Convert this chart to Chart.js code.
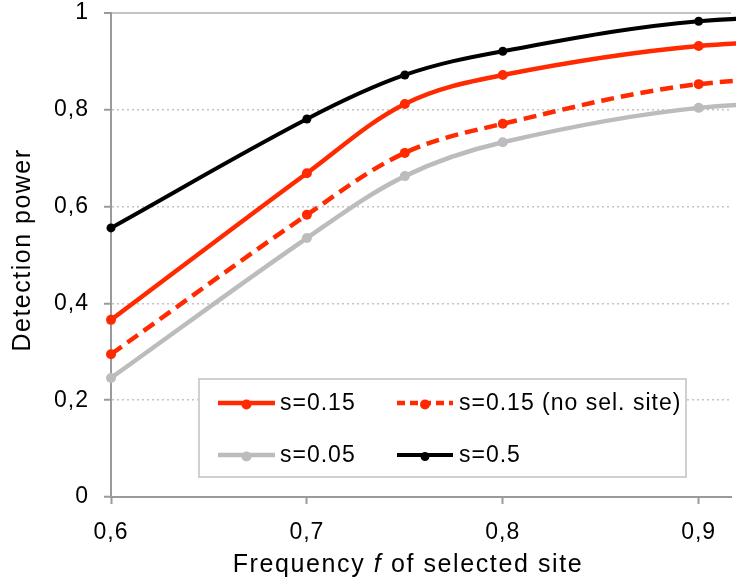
<!DOCTYPE html>
<html>
<head>
<meta charset="utf-8">
<script src="https://cdn.jsdelivr.net/npm/chart.js@4/dist/chart.umd.min.js"></script>
<style>
html,body{margin:0;padding:0;background:#fff;overflow:hidden;}
#wrap{width:736px;height:588px;position:relative;}
</style>
</head>
<body>
<div id="wrap"><canvas id="c" width="736" height="588"></canvas></div>
<script>
// ---- data ----
const categories = [0.6, 0.7, 0.75, 0.8, 0.9, 1.0];
const seriesS015 = [0.366, 0.669, 0.812, 0.872, 0.932, 0.945];
const seriesS015NoSel = [0.295, 0.583, 0.711, 0.771, 0.853, 0.865];
const seriesS005 = [0.246, 0.535, 0.663, 0.733, 0.804, 0.815];
const seriesS05 = [0.556, 0.781, 0.872, 0.921, 0.983, 0.99];
const seriesLabels = ['s=0.15', 's=0.15 (no sel. site)', 's=0.05', 's=0.5'];
const xTickValues = [0.6, 0.7, 0.8, 0.9];
const yTickValues = [0, 0.2, 0.4, 0.6, 0.8, 1];
const xTitleParts = ['Frequency ', 'f', ' of selected site'];
const yTitle = 'Detection power';

const RED = '#ff2a00', GRAY = '#bcbcbc', BLACK = '#000000';
const FONT = '"Liberation Sans", Arial, Helvetica, sans-serif';

function pts(arr) { return categories.map((x, i) => ({ x: x, y: arr[i] })); }
function fmt(v) { return String(Math.round(v * 10) / 10).replace('.', ','); }

function ds(label, data, color, width, radius, dash) {
  return {
    label: label, data: pts(data), borderColor: color, backgroundColor: color,
    borderWidth: width, borderDash: dash || [], borderCapStyle: 'butt',
    pointRadius: radius, pointBackgroundColor: color, pointBorderWidth: 0,
    pointHoverRadius: radius, tension: 0.35, fill: false, clip: false
  };
}

const spacingPlugin = {
  id: 'spacing',
  beforeUpdate(chart) { chart.ctx.letterSpacing = '1px'; },
  beforeDraw(chart) { chart.ctx.letterSpacing = '1px'; }
};

const decorPlugin = {
  id: 'decor',
  afterDraw(chart) {
    const ctx = chart.ctx, a = chart.chartArea;
    ctx.save();
    // legend box
    const bx = a.left + 88, by = a.top + 366, bw = 487, bh = 98;
    ctx.fillStyle = '#fff';
    ctx.fillRect(bx, by, bw, bh);
    ctx.strokeStyle = '#d0d0d0';
    ctx.lineWidth = 2;
    ctx.strokeRect(bx, by, bw, bh);
    const cols = [[19, 76, 81], [198, 254, 260]];
    const rows = [24, 76];
    ctx.font = '23px ' + FONT;
    ctx.letterSpacing = '1px';
    ctx.textBaseline = 'middle';
    ctx.textAlign = 'left';
    chart.data.datasets.forEach((d, i) => {
      const c = cols[i % 2], y = by + rows[Math.floor(i / 2)];
      ctx.beginPath();
      ctx.strokeStyle = d.borderColor;
      ctx.lineWidth = d.borderWidth;
      ctx.setLineDash(d.borderDash.length ? [8, 5] : []);
      ctx.moveTo(bx + c[0], y);
      ctx.lineTo(bx + c[1], y);
      ctx.stroke();
      ctx.setLineDash([]);
      ctx.beginPath();
      ctx.fillStyle = d.borderColor;
      ctx.arc(bx + (c[0] + c[1]) / 2, y + 1.5, d.pointRadius, 0, Math.PI * 2);
      ctx.fill();
      ctx.fillStyle = '#000';
      ctx.fillText(d.label, bx + c[2], y + 1);
    });
    // x-axis title with italic f
    ctx.letterSpacing = '1.6px';
    ctx.textBaseline = 'alphabetic';
    ctx.fillStyle = '#000';
    const fonts = ['25px ' + FONT, 'italic 25px ' + FONT, '25px ' + FONT];
    let total = 0;
    const widths = xTitleParts.map((t, i) => { ctx.font = fonts[i]; const w = ctx.measureText(t).width; total += w; return w; });
    let x = 408 - total / 2;
    const yb = a.bottom + 75;
    xTitleParts.forEach((t, i) => { ctx.font = fonts[i]; ctx.fillText(t, x, yb); x += widths[i]; });
    // y-axis title
    ctx.letterSpacing = '1.5px';
    ctx.translate(30, (a.top + a.bottom) / 2 - 5);
    ctx.rotate(-Math.PI / 2);
    ctx.font = '25px ' + FONT;
    ctx.textAlign = 'center';
    ctx.fillText(yTitle, 0, 0);
    ctx.restore();
  }
};

new Chart(document.getElementById('c'), {
  type: 'line',
  data: {
    datasets: [
      ds(seriesLabels[0], seriesS015, RED, 4.5, 5),
      ds(seriesLabels[1], seriesS015NoSel, RED, 4.5, 5, [13, 7]),
      ds(seriesLabels[2], seriesS005, GRAY, 4.5, 5),
      ds(seriesLabels[3], seriesS05, BLACK, 4, 4.5)
    ]
  },
  options: {
    responsive: false,
    animation: false,
    devicePixelRatio: 1,
    layout: { padding: { top: 13, right: 0, left: 0, bottom: 0 } },
    plugins: { legend: { display: false }, tooltip: { enabled: false }, title: { display: false } },
    events: [],
    scales: {
      x: {
        type: 'linear', min: 0.6, max: 0.9165,
        afterBuildTicks(s) { s.ticks = xTickValues.map(v => ({ value: v })); },
        afterFit(s) { s.height = 91; s.paddingLeft = 0; s.paddingRight = 0; },
        ticks: { callback: v => fmt(v), color: '#000', font: { family: FONT, size: 23 }, padding: 15, maxRotation: 0, autoSkip: false },
        grid: { drawOnChartArea: false, drawTicks: true, tickLength: 7, tickColor: '#9a9a9a', tickWidth: 2 },
        border: { display: true, color: '#9a9a9a', width: 2 }
      },
      y: {
        type: 'linear', min: 0, max: 1,
        afterBuildTicks(s) { s.ticks = yTickValues.map(v => ({ value: v })); },
        afterFit(s) { s.width = 111; s.paddingTop = 0; s.paddingBottom = 0; },
        ticks: { callback: v => fmt(v), color: '#000', font: { family: FONT, size: 23 }, padding: 15 },
        grid: {
          drawOnChartArea: true, drawTicks: true, tickLength: 7, tickColor: '#9a9a9a', tickWidth: 2,
          color: '#c4c4c4',
          lineWidth: c => (c.tick && c.tick.value === 1) ? 2 : 1.5
        },
        border: {
          display: true, color: '#9a9a9a', width: 2,
          dash: c => (c.tick && c.tick.value === 1) ? [] : [2, 3]
        }
      }
    }
  },
  plugins: [spacingPlugin, decorPlugin]
});
</script>
</body>
</html>
